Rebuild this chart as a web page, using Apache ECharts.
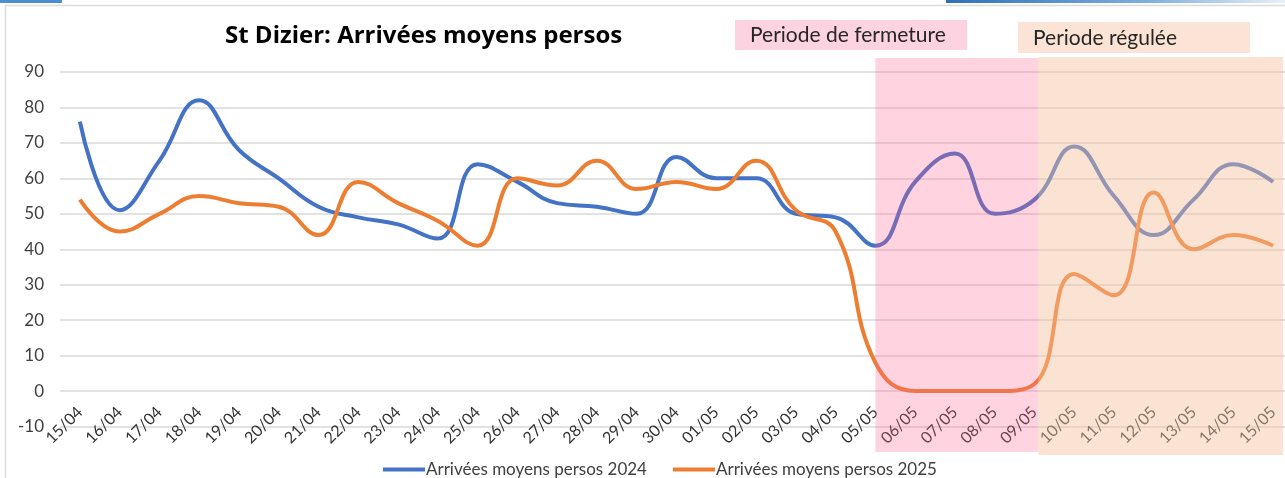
<!DOCTYPE html>
<html>
<head>
<meta charset="utf-8">
<script src="https://cdn.jsdelivr.net/npm/echarts@6/dist/echarts.min.js"></script>
<style>
  html, body { margin: 0; padding: 0; background: #fff; }
  #chart { width: 1285px; height: 478px; }
</style>
</head>
<body>
<div id="chart"></div>
<script>
// categories (jour/mois)
const dates = ["15/04", "16/04", "17/04", "18/04", "19/04", "20/04", "21/04", "22/04", "23/04", "24/04",
  "25/04", "26/04", "27/04", "28/04", "29/04", "30/04", "01/05", "02/05", "03/05", "04/05",
  "05/05", "06/05", "07/05", "08/05", "09/05", "10/05", "11/05", "12/05", "13/05", "14/05", "15/05"];

const arrivees2024 = [76, 51, 65, 82, 68, 60, 52, 49, 47, 43,
  64, 59, 53, 52, 50, 66, 60, 60, 50, 49,
  41, 59, 67, 50, 54, 69, 55, 44, 54, 64, 59];

const arrivees2025 = [54, 45, 50, 55, 53, 52, 44, 59, 53, 48,
  41, 60, 58, 65, 57, 59, 57, 65, 51, 45,
  8, 0, 0, 0, 2, 33, 27, 56, 40, 44, 41];

const seriesNames = ["Arrivées moyens persos 2024", "Arrivées moyens persos 2025"];

// periodes annotees
const fermeture = ["05/05", "09/05"];
const regulee = ["09/05", "15/05"];

const font = "Lato, 'Open Sans', sans-serif";
let chart = echarts.init(document.getElementById("chart"));

let option = {
  animation: false,
  title: {
    text: "St Dizier: Arrivées moyens persos",
    left: 220,
    top: 19,
    textStyle: { fontFamily: "'Open Sans', sans-serif", fontSize: 24, fontWeight: "bold", color: "#000" }
  },
  legend: {
    data: seriesNames,
    left: 378,
    top: 456,
    icon: "rect",
    itemWidth: 42,
    itemHeight: 4,
    itemGap: 26,
    textStyle: { fontFamily: font, fontSize: 17, color: "#404040", padding: [0, 0, 0, -4] }
  },
  grid: {
    left: 60,
    top: 72,
    width: 1233,
    height: 354.5,
    outerBoundsMode: "none"
  },
  xAxis: {
    type: "category",
    data: dates,
    boundaryGap: true,
    offset: -21,
    axisLine: { show: false, onZero: false },
    axisTick: { show: false },
    axisLabel: {
      rotate: 45,
      margin: 4,
      interval: 0,
      fontFamily: font,
      fontSize: 16,
      color: "#333"
    }
  },
  yAxis: {
    type: "value",
    min: -10,
    max: 90,
    interval: 10,
    axisLine: { show: false },
    axisTick: { show: false },
    axisLabel: { margin: 16, fontFamily: font, fontSize: 17, color: "#404040" },
    splitLine: { lineStyle: { color: "#d9d9d9", width: 1.5 } }
  },
  series: [
    {
      name: seriesNames[0],
      type: "line",
      smooth: 0.45,
      symbol: "none",
      data: arrivees2024,
      itemStyle: { color: "#4472c4" },
      lineStyle: { color: "#4472c4", width: 4 }
    },
    {
      name: seriesNames[1],
      type: "line",
      smooth: 0.45,
      symbol: "none",
      data: arrivees2025,
      itemStyle: { color: "#ed7d31" },
      lineStyle: { color: "#ed7d31", width: 4 }
    }
  ]
};
chart.setOption(option);

// zones colorees posees par-dessus le graphe (x calcule depuis l'axe)
let px = function(d) { return chart.convertToPixel({ xAxisIndex: 0 }, d); };
let x1 = px(fermeture[0]);
let x2 = px(fermeture[1]) + 4;
let x3 = px(regulee[1]) + 10;

chart.setOption({
  graphic: [
    // cadre
    { type: "rect", z: 1, shape: { x: 5.5, y: 5.5, width: 1290, height: 480 }, style: { fill: null, stroke: "#dcdcdc", lineWidth: 1.5 } },
    { type: "rect", z: 1, shape: { x: 0, y: 0, width: 62, height: 3 }, style: { fill: "#4a90d0" } },
    { type: "rect", z: 1, shape: { x: 946, y: 0, width: 339, height: 3 }, style: { fill: new echarts.graphic.LinearGradient(0, 0, 1, 0, [{ offset: 0, color: "#2f6fb8" }, { offset: 0.6, color: "#7fb0dd" }, { offset: 1, color: "#e8f0f8" }]) } },
    // zones
    { type: "rect", z: 100, shape: { x: x1, y: 58, width: x2 - x1, height: 394 }, style: { fill: "rgba(255,98,144,0.28)" } },
    { type: "rect", z: 100, shape: { x: x2, y: 57, width: x3 - x2, height: 398 }, style: { fill: "rgba(247,193,158,0.45)" } },
    // etiquettes
    { type: "rect", z: 100, shape: { x: 735, y: 20, width: 232, height: 30 }, style: { fill: "#fdd3e1" } },
    { type: "text", z: 101, left: 750, top: 25, style: { text: "Periode de fermeture", fontFamily: font, fontSize: 21, fill: "#262626" } },
    { type: "rect", z: 100, shape: { x: 1018, y: 22, width: 232, height: 31 }, style: { fill: "#fbe4d5" } },
    { type: "text", z: 101, left: 1033, top: 28, style: { text: "Periode régulée", fontFamily: font, fontSize: 21, fill: "#262626" } }
  ]
});
</script>
</body>
</html>
